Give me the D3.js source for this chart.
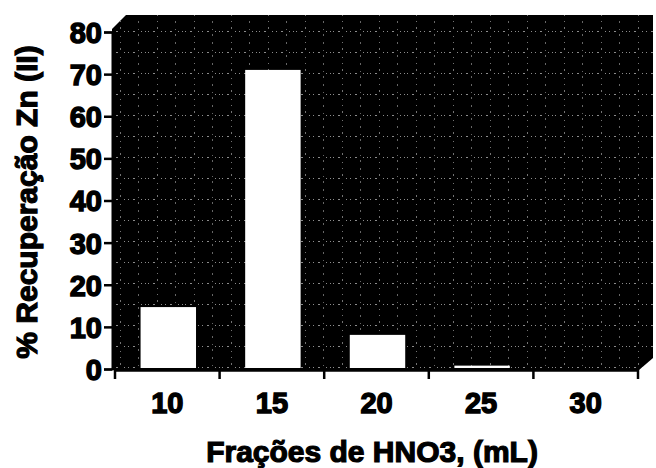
<!DOCTYPE html>
<html><head><meta charset="utf-8">
<script src="https://cdn.jsdelivr.net/npm/d3@7"></script>
<style>
html,body{margin:0;padding:0;background:#fff;}
svg text{font-family:"Liberation Sans",Arial,sans-serif;font-weight:bold;fill:#000;}
</style></head>
<body>
<svg id="chart" width="656" height="468"></svg>
<script>
// Data
const categories = ["10", "15", "20", "25", "30"];
const recovery = [14.7, 71.0, 8.1, 0.8, 0];
const yTicks = [0, 10, 20, 30, 40, 50, 60, 70, 80];
const xTitle = "Frações de HNO3, (mL)";
const yTitle = "% Recuperação Zn (II)";

const svg = d3.select("#chart");
const plot = {left: 112, right: 653, top: 15, bottom: 370};

const x = d3.scaleBand().domain(categories).range([115, 638]).padding(0);
const y = d3.scaleLinear().domain([0, 80]).range([369, 32]);

// texture pattern for the dark plot background
const defs = svg.append("defs");
const pat = defs.append("pattern").attr("id", "tex").attr("patternUnits", "userSpaceOnUse")
  .attr("width", 37).attr("height", 21);
pat.append("rect").attr("width", 37).attr("height", 21).attr("fill", "#000");
pat.append("line").attr("x1", 0).attr("x2", 37).attr("y1", 10.5).attr("y2", 10.5)
  .attr("stroke", "#fff").attr("stroke-width", 1).attr("stroke-dasharray", "1 4 2 6 1 3").attr("opacity", 0.55);
pat.append("line").attr("x1", 9.5).attr("x2", 9.5).attr("y1", 0).attr("y2", 21)
  .attr("stroke", "#fff").attr("stroke-width", 1).attr("stroke-dasharray", "1 5 2 7").attr("opacity", 0.45);
pat.append("line").attr("x1", 27.5).attr("x2", 27.5).attr("y1", 0).attr("y2", 21)
  .attr("stroke", "#fff").attr("stroke-width", 1).attr("stroke-dasharray", "2 6 1 4").attr("opacity", 0.4);

// plot background with chamfered corners
const c = 14;
svg.append("path")
  .attr("d", `M${plot.left},${plot.top + c} L${plot.left + c},${plot.top} L${plot.right},${plot.top} L${plot.right},${plot.bottom - 12} L${plot.right - c},${plot.bottom} L${plot.left},${plot.bottom} Z`)
  .attr("fill", "url(#tex)");

// bars
const barW = x.bandwidth() * 0.53;
svg.append("g").selectAll("rect").data(categories).join("rect")
  .attr("x", (d) => x(d) + x.bandwidth() / 2 - barW / 2 + 1)
  .attr("y", (d, i) => y(recovery[i]))
  .attr("width", barW)
  .attr("height", (d, i) => y(0) - 1 - y(recovery[i]) > 0 ? y(0) - 1 - y(recovery[i]) : 0)
  .attr("fill", "#fff");

// y axis
const yAxis = svg.append("g").attr("transform", `translate(${plot.left},0)`)
  .call(d3.axisLeft(y).tickValues(yTicks).tickSize(8).tickPadding(2).tickFormat(d3.format("d")));
yAxis.select(".domain").attr("stroke", "#000").attr("stroke-width", 2);
yAxis.selectAll(".tick line").attr("stroke", "#000").attr("stroke-width", 2.5);
yAxis.selectAll(".tick text").attr("font-size", 29).attr("font-family", "Liberation Sans, Arial, sans-serif")
  .attr("font-weight", "bold").attr("stroke", "#000").attr("stroke-width", 1.4).attr("dy", "0.36em");

// x axis
const xAxis = svg.append("g").attr("transform", `translate(0,${plot.bottom})`)
  .call(d3.axisBottom(x).tickSize(0).tickPadding(22));
xAxis.select(".domain").attr("stroke", "#000").attr("stroke-width", 2.5);
xAxis.selectAll(".tick text").attr("font-size", 29).attr("font-family", "Liberation Sans, Arial, sans-serif")
  .attr("font-weight", "bold").attr("stroke", "#000").attr("stroke-width", 1.4);
const edges = categories.map((d) => x(d)).concat([x(categories[categories.length - 1]) + x.step()]);
xAxis.selectAll(".edge").data(edges).join("line").attr("class", "edge")
  .attr("x1", (d) => d).attr("x2", (d) => d).attr("y1", -2).attr("y2", 9)
  .attr("stroke", "#000").attr("stroke-width", 2.5);

// titles
svg.append("text").attr("x", 372).attr("y", 462).attr("text-anchor", "middle")
  .attr("font-size", 30).attr("stroke", "#000").attr("stroke-width", 1.2).text(xTitle);
svg.append("text").attr("transform", "translate(37,202) rotate(-90)").attr("text-anchor", "middle")
  .attr("font-size", 30).attr("stroke", "#000").attr("stroke-width", 1.2).text(yTitle);
</script>
</body></html>
